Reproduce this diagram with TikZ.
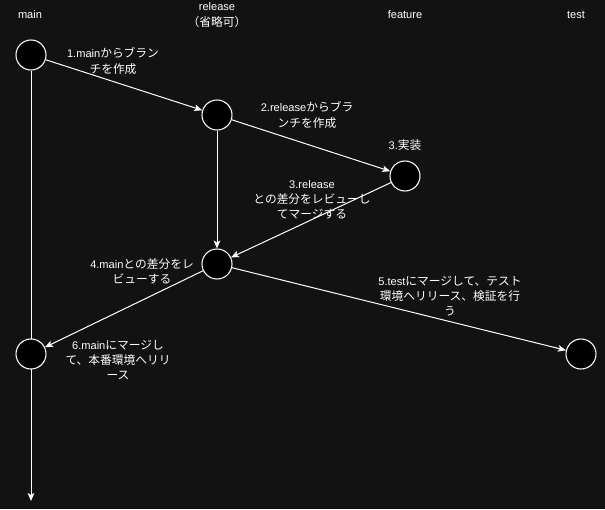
\documentclass[tikz,border=0pt]{standalone}
\usepackage{fontspec}
\setmainfont{Liberation Sans}
\newfontfamily\jp[Scale=1.06]{Noto Sans CJK JP}
\usetikzlibrary{arrows.meta}
\pgfdeclarelayer{back}
\pgfdeclarelayer{lines}
\pgfsetlayers{back,lines,main}
\definecolor{bgc}{HTML}{121212}
\begin{document}
\begin{tikzpicture}[x=0.75pt,y=-0.75pt,
  commit/.style={circle,draw=white,fill=black,line width=0.8pt,minimum size=22.5pt,inner sep=0pt},
  lbl/.style={text=white,font=\fontsize{8.3pt}{11.4pt}\selectfont,align=center,inner sep=0pt},
  conn/.style={draw=white,line width=0.75pt,-{Stealth[length=6pt,width=5pt,inset=1.5pt]}}]
\begin{pgfonlayer}{back}
\fill[bgc] (0,0) rectangle (605,509);
\end{pgfonlayer}
\useasboundingbox (0,0) rectangle (605,509);
% headers
\node[lbl] (hmain) at (30,15) {main};
\node[lbl] (hrel) at (217,15) {release\\{\jp（省略可）}};
\node[lbl] (hfeat) at (405,15) {feature};
\node[lbl] (htest) at (576,15) {test};
% commits
\node[commit] (m1) at (31,55) {};
\node[commit] (r1) at (217,115) {};
\node[commit] (f1) at (405,176) {};
\node[commit] (r2) at (217,264) {};
\node[commit] (m2) at (31,354) {};
\node[commit] (t1) at (581,354) {};
\coordinate (mend) at (31,501);
\begin{pgfonlayer}{lines}
\draw[conn] (m1) -- (mend);
\draw[conn] (m1) -- (r1);
\draw[conn] (r1) -- (f1);
\draw[conn] (r1) -- (r2);
\draw[conn] (f1) -- (r2);
\draw[conn] (r2) -- (t1);
\draw[conn] (r2) -- (m2);
\end{pgfonlayer}
% labels
\node[lbl] (l1) at (113,61) {1.main{\jp からブラン}\\{\jp チを作成}};
\node[lbl] (l2) at (307,115) {2.release{\jp からブラ}\\{\jp ンチを作成}};
\node[lbl] (l3) at (405,145) {3.{\jp 実装}};
\node[lbl] (l3b) at (312,200) {3.release\\{\jp との差分をレビューし}\\{\jp てマージする}};
\node[lbl] (l4) at (142,271) {4.main{\jp との差分をレ}\\{\jp ビューする}};
\node[lbl] (l5) at (450,296) {5.test{\jp にマージして、テスト}\\{\jp 環境へリリース、検証を行}\\{\jp う}};
\node[lbl] (l6) at (118,360) {6.main{\jp にマージし}\\{\jp て、本番環境へリリ}\\{\jp ース}};
\end{tikzpicture}
\end{document}
